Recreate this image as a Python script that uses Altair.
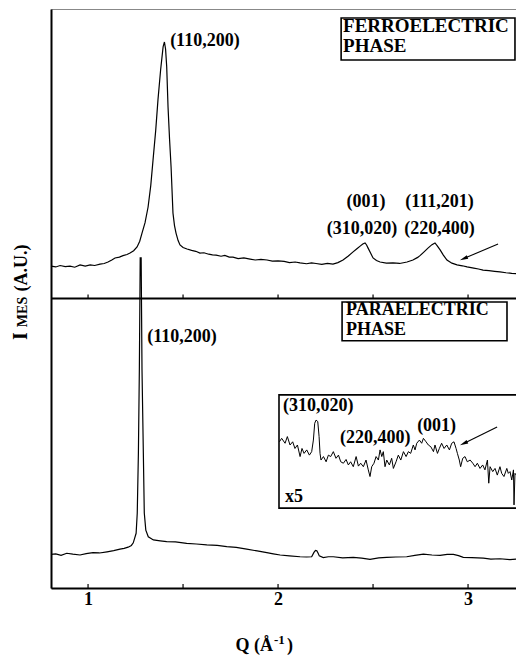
import altair as alt
import pandas as pd

FONT = "Liberation Serif"

# ---------------- data ----------------
ferro_q = [0.805, 0.83, 0.853, 0.88, 0.905, 0.93, 0.958, 0.985, 1.011, 1.035, 1.063, 1.085,
           1.105, 1.125, 1.142, 1.165, 1.184, 1.205, 1.221, 1.24, 1.258, 1.272, 1.284, 1.300,
           1.316, 1.330, 1.342, 1.356, 1.368, 1.382, 1.395, 1.402, 1.408, 1.414, 1.421, 1.429,
           1.437, 1.447, 1.455, 1.463, 1.474, 1.484, 1.50, 1.521, 1.545, 1.567, 1.589, 1.61,
           1.635, 1.655, 1.674, 1.70, 1.72, 1.743, 1.763, 1.79, 1.82, 1.853, 1.88, 1.91, 1.942,
           1.97, 2.00, 2.032, 2.06, 2.09, 2.116, 2.15, 2.176, 2.2, 2.23, 2.26, 2.289, 2.315,
           2.342, 2.37, 2.395, 2.415, 2.432, 2.446, 2.458, 2.466, 2.474, 2.487, 2.5, 2.518,
           2.537, 2.57, 2.605, 2.64, 2.679, 2.71, 2.735, 2.747, 2.77, 2.789, 2.81, 2.826, 2.838,
           2.853, 2.870, 2.889, 2.915, 2.942, 2.97, 2.995, 3.03, 3.055, 3.079, 3.11, 3.14,
           3.168, 3.2, 3.23, 3.26, 3.289]
ferro_i = [1.112, 1.109, 1.114, 1.110, 1.112, 1.108, 1.116, 1.112, 1.116, 1.114, 1.119, 1.121,
           1.126, 1.133, 1.140, 1.143, 1.148, 1.152, 1.157, 1.165, 1.178, 1.198, 1.226, 1.262,
           1.316, 1.390, 1.478, 1.580, 1.686, 1.790, 1.869, 1.886, 1.862, 1.800, 1.661, 1.550,
           1.454, 1.295, 1.252, 1.226, 1.200, 1.185, 1.176, 1.171, 1.166, 1.163, 1.157, 1.158,
           1.153, 1.151, 1.150, 1.146, 1.149, 1.143, 1.143, 1.138, 1.140, 1.136, 1.133, 1.135,
           1.133, 1.129, 1.130, 1.128, 1.124, 1.126, 1.123, 1.120, 1.123, 1.121, 1.118, 1.121,
           1.119, 1.124, 1.133, 1.147, 1.161, 1.172, 1.181, 1.188, 1.192, 1.185, 1.174, 1.157,
           1.140, 1.131, 1.126, 1.122, 1.123, 1.121, 1.126, 1.133, 1.142, 1.148, 1.162, 1.174,
           1.186, 1.192, 1.182, 1.168, 1.150, 1.133, 1.122, 1.116, 1.113, 1.109, 1.105, 1.102,
           1.098, 1.096, 1.094, 1.092, 1.089, 1.087, 1.086, 1.085]

para_q = [0.805, 0.83, 0.858, 0.888, 0.92, 0.958, 0.99, 1.026, 1.06, 1.1, 1.135, 1.168, 1.19,
          1.211, 1.228, 1.238, 1.253, 1.259, 1.265, 1.270, 1.2745, 1.2795, 1.284, 1.291, 1.296,
          1.304, 1.317, 1.344, 1.38, 1.414, 1.46, 1.519, 1.57, 1.625, 1.68, 1.73, 1.78, 1.835,
          1.89, 1.941, 1.975, 2.011, 2.06, 2.116, 2.15, 2.177, 2.189, 2.197, 2.204, 2.211,
          2.217, 2.238, 2.265, 2.291, 2.34, 2.396, 2.44, 2.484, 2.53, 2.572, 2.62, 2.677, 2.72,
          2.765, 2.81, 2.853, 2.89, 2.923, 2.95, 2.975, 3.02, 3.081, 3.12, 3.168, 3.22, 3.26,
          3.289]
para_i = [0.116, 0.118, 0.113, 0.120, 0.117, 0.114, 0.119, 0.122, 0.121, 0.125, 0.129, 0.134,
          0.137, 0.141, 0.147, 0.156, 0.189, 0.259, 0.466, 0.753, 1.140, 1.140, 0.753, 0.466,
          0.259, 0.200, 0.177, 0.166, 0.163, 0.160, 0.159, 0.154, 0.152, 0.149, 0.147, 0.143,
          0.140, 0.134, 0.128, 0.122, 0.118, 0.114, 0.111, 0.108, 0.107, 0.108, 0.123, 0.130,
          0.129, 0.120, 0.111, 0.105, 0.108, 0.108, 0.104, 0.106, 0.103, 0.099, 0.104, 0.106,
          0.107, 0.108, 0.113, 0.117, 0.114, 0.113, 0.116, 0.116, 0.112, 0.106, 0.105, 0.103,
          0.100, 0.101, 0.098, 0.100, 0.099]

inset_q = [2.007, 2.019, 2.037, 2.049, 2.063, 2.077, 2.089, 2.102, 2.116, 2.126, 2.137, 2.151,
           2.165, 2.177, 2.186, 2.193, 2.2, 2.209, 2.216, 2.221, 2.226, 2.239, 2.253, 2.265,
           2.277, 2.291, 2.305, 2.318, 2.330, 2.344, 2.358, 2.370, 2.382, 2.396, 2.411, 2.423,
           2.435, 2.449, 2.463, 2.475, 2.484, 2.493, 2.505, 2.516, 2.528, 2.537, 2.546, 2.554,
           2.563, 2.572, 2.586, 2.598, 2.607, 2.621, 2.633, 2.646, 2.660, 2.674, 2.686, 2.698,
           2.712, 2.721, 2.730, 2.744, 2.756, 2.765, 2.779, 2.791, 2.804, 2.818, 2.826, 2.839,
           2.849, 2.861, 2.874, 2.888, 2.902, 2.914, 2.926, 2.937, 2.944, 2.954, 2.961, 2.972,
           2.984, 2.996, 3.011, 3.025, 3.037, 3.049, 3.063, 3.077, 3.089, 3.102, 3.109, 3.116,
           3.130, 3.142, 3.154, 3.168, 3.177, 3.189, 3.204, 3.212, 3.221, 3.230, 3.239, 3.242,
           3.247, 3.260, 3.270, 3.282, 3.289]
inset_i = [0.505, 0.517, 0.500, 0.523, 0.494, 0.505, 0.482, 0.494, 0.454, 0.482, 0.465, 0.477,
           0.459, 0.471, 0.511, 0.569, 0.580, 0.575, 0.523, 0.465, 0.442, 0.454, 0.436, 0.459,
           0.454, 0.471, 0.448, 0.459, 0.436, 0.431, 0.444, 0.425, 0.436, 0.419, 0.454, 0.421,
           0.431, 0.419, 0.442, 0.408, 0.385, 0.419, 0.431, 0.454, 0.442, 0.477, 0.454, 0.471,
           0.419, 0.442, 0.425, 0.448, 0.413, 0.436, 0.459, 0.442, 0.471, 0.454, 0.471, 0.465,
           0.494, 0.477, 0.500, 0.511, 0.500, 0.517, 0.505, 0.494, 0.488, 0.471, 0.494, 0.465,
           0.482, 0.500, 0.482, 0.494, 0.477, 0.500, 0.505, 0.482, 0.465, 0.442, 0.419, 0.448,
           0.454, 0.436, 0.442, 0.431, 0.419, 0.431, 0.413, 0.425, 0.408, 0.442, 0.362, 0.419,
           0.402, 0.413, 0.390, 0.419, 0.396, 0.385, 0.413, 0.396, 0.402, 0.373, 0.408, 0.287,
           0.396, 0.385, 0.396, 0.385, 0.390]

tick_q = [1, 1.5, 2, 2.5, 3]
axis_labels = [1, 2, 3]

# annotation labels (text, Q, intensity)
left_labels = ["(110,200)", "(110,200)", "(310,020)", "(220,400)", "(001)", "x5"]
left_label_q = [1.432, 1.311, 2.026, 2.326, 2.732, 2.037]
left_label_i = [1.889, 0.867, 0.629, 0.518, 0.560, 0.314]

center_labels = ["(001)", "(111,201)", "(310,020)", "(220,400)"]
center_label_q = [2.463, 2.850, 2.442, 2.850]
center_label_i = [1.333, 1.333, 1.240, 1.240]

ferro_labels = ["FERROELECTRIC", "PHASE"]
ferro_label_q = [2.342, 2.342]
ferro_label_i = [1.941, 1.872]

para_labels = ["PARAELECTRIC", "PHASE"]
para_label_q = [2.358, 2.358]
para_label_i = [0.960, 0.892]

# boxes: phase boxes and inset frame (Q range, intensity range)
box_q1 = [2.332, 2.337, 2.005]
box_q2 = [3.247, 3.205, 3.29]
box_i1 = [1.969, 0.988, 0.667]
box_i2 = [1.824, 0.854, 0.276]

# arrows (start, end at arrow head)
arrow_q1 = [3.158, 3.153]
arrow_i1 = [1.188, 0.556]
arrow_q2 = [2.977, 2.977]
arrow_i2 = [1.138, 0.499]
arrow_angle = [247, 244]

# ---------------- chart ----------------
x_scale = alt.Scale(domain=[0.805, 3.2524], nice=False, zero=False)
y_scale = alt.Scale(domain=[0, 2], nice=False, zero=False)

x_axis = alt.Axis(values=axis_labels, format="d", labelFont=FONT, labelFontSize=18,
                  labelFontWeight="bold", labelColor="black", labelPadding=2,
                  ticks=False, grid=False, domainColor="black", domainWidth=2, title=None)
y_axis = alt.Axis(labels=False, ticks=False, grid=False, domainColor="black",
                  domainWidth=2, title=None)


def X(f):
    return alt.X(f, type="quantitative", scale=x_scale, axis=x_axis)


def Y(f):
    return alt.Y(f, type="quantitative", scale=y_scale, axis=y_axis)


ferro_df = pd.DataFrame({"q": ferro_q, "i": ferro_i})
para_df = pd.DataFrame({"q": para_q, "i": para_i})
inset_df = pd.DataFrame({"q": inset_q, "i": inset_i})

ferro = alt.Chart(ferro_df).mark_line(color="black", strokeWidth=1.2).encode(
    x=X("q"), y=Y("i"), order="q:Q")
para = alt.Chart(para_df).mark_line(color="black", strokeWidth=1.2).encode(
    x=X("q"), y=Y("i"), order="q:Q")

boxes = alt.Chart(pd.DataFrame({"q1": box_q1, "q2": box_q2, "i1": box_i1, "i2": box_i2})).mark_rect(
    fill="white", stroke="black", strokeWidth=1.6).encode(
    x=X("q1"), x2="q2", y=Y("i1"), y2="i2")

inset = alt.Chart(inset_df).mark_line(color="black", strokeWidth=1.0).encode(
    x=X("q"), y=Y("i"), order="q:Q")

sep = alt.Chart(pd.DataFrame({"i": [1.0]})).mark_rule(color="black", strokeWidth=2).encode(
    y=Y("i"))

tick_df = pd.DataFrame({
    "q": tick_q + tick_q,
    "i0": [0.0] * len(tick_q) + [1.0] * len(tick_q),
    "i1": [0.014] * len(tick_q) + [1.014] * len(tick_q),
})
ticks = alt.Chart(tick_df).mark_rule(color="black", strokeWidth=1.2).encode(
    x=X("q"), y=Y("i0"), y2="i1")

text_style = dict(font=FONT, fontWeight="bold", color="black", baseline="middle")

lbl_left = alt.Chart(pd.DataFrame({"t": left_labels, "q": left_label_q, "i": left_label_i})).mark_text(
    align="left", fontSize=18, **text_style).encode(x=X("q"), y=Y("i"), text="t:N")
lbl_center = alt.Chart(pd.DataFrame({"t": center_labels, "q": center_label_q, "i": center_label_i})).mark_text(
    align="center", fontSize=18, **text_style).encode(x=X("q"), y=Y("i"), text="t:N")
lbl_ferro = alt.Chart(pd.DataFrame({"t": ferro_labels, "q": ferro_label_q, "i": ferro_label_i})).mark_text(
    align="left", fontSize=19, **text_style).encode(x=X("q"), y=Y("i"), text="t:N")
lbl_para = alt.Chart(pd.DataFrame({"t": para_labels, "q": para_label_q, "i": para_label_i})).mark_text(
    align="left", fontSize=18, **text_style).encode(x=X("q"), y=Y("i"), text="t:N")

arrow_df = pd.DataFrame({"q1": arrow_q1, "i1": arrow_i1, "q2": arrow_q2, "i2": arrow_i2,
                         "a": arrow_angle})
arrow_lines = alt.Chart(arrow_df).mark_rule(color="black", strokeWidth=1.1).encode(
    x=X("q1"), y=Y("i1"), x2="q2", y2="i2")
arrow_heads = alt.Chart(arrow_df).mark_point(
    shape="M0,-1L0.45,1L-0.45,1Z", filled=True, color="black", opacity=1, size=70).encode(
    x=X("q2"), y=Y("i2"), angle=alt.Angle("a:Q", scale=None))


# axis titles as text (subscript / superscript pieces)
def ptext(t, x, y, size, align="center", baseline="middle", angle=0):
    return alt.Chart(pd.DataFrame({"t": [t]})).mark_text(
        font=FONT, fontWeight="bold", color="black", fontSize=size, align=align,
        baseline=baseline, angle=angle).encode(x=alt.value(x), y=alt.value(y), text="t:N")


ytitle_i = ptext("I", -24, 327, 20, align="center", baseline="alphabetic", angle=270)
ytitle_mes = ptext("MES", -24, 303, 14, align="center", baseline="alphabetic", angle=270)
ytitle_au = ptext("(A.U.)", -24, 259, 18, align="center", baseline="alphabetic", angle=270)

xtitle_a = ptext("Q (Å", 222, 642, 18, align="right", baseline="alphabetic")
xtitle_b = ptext("-1", 223, 635, 13, align="left", baseline="alphabetic")
xtitle_c = ptext(")", 236, 642, 18, align="left", baseline="alphabetic")

chart = alt.layer(
    para, ferro, boxes, inset, sep, ticks, lbl_left, lbl_center, lbl_ferro, lbl_para,
    arrow_lines, arrow_heads, ytitle_i, ytitle_mes, ytitle_au, xtitle_a, xtitle_b, xtitle_c,
).properties(
    width=465, height=579,
    padding={"left": 43, "top": 1, "right": 0, "bottom": 67},
    autosize=alt.AutoSizeParams(type="none"),
    background="white",
).configure_view(stroke="#888888", strokeWidth=1)

chart.save("out.html", embed_options={"renderer": "svg", "actions": False})
